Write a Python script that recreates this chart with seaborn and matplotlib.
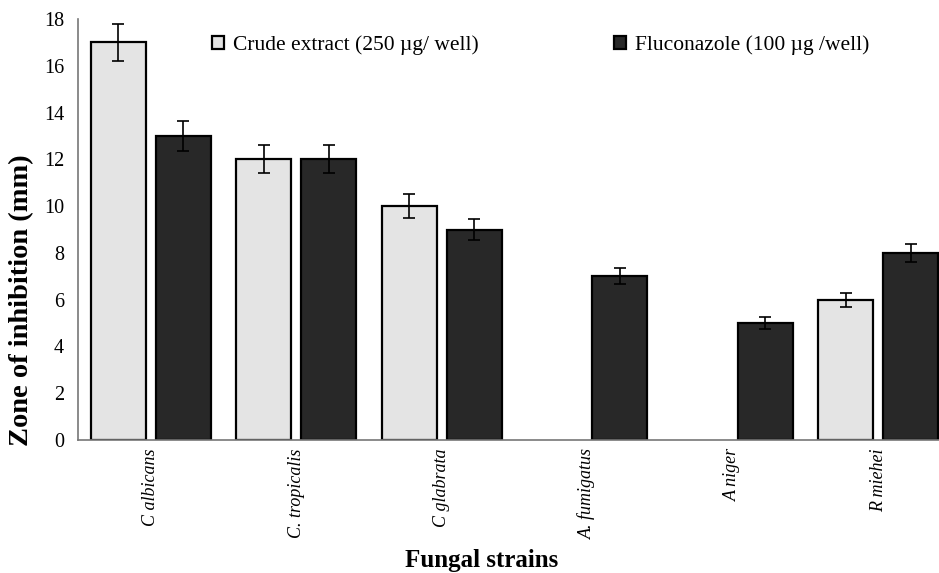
import pandas as pd
import matplotlib.pyplot as plt
import seaborn as sns

strains = ["C albicans", "C. tropicalis", "C glabrata", "A. fumigatus", "A niger", "R miehei"]
crude = [17, 12, 10, 0, 0, 6]
crude_err = [0.8, 0.6, 0.5, 0, 0, 0.3]
flu = [13, 12, 9, 7, 5, 8]
flu_err = [0.65, 0.6, 0.45, 0.35, 0.25, 0.4]
groups = ["Crude extract (250 \u00b5g/ well)", "Fluconazole (100 \u00b5g /well)"]

data = pd.DataFrame({
    "strain": strains * 2,
    "zone": crude + flu,
    "err": crude_err + flu_err,
    "group": [groups[0]] * len(strains) + [groups[1]] * len(strains),
})

sns.set_style("white")
plt.rcParams['font.family'] = ['Liberation Serif', 'DejaVu Serif']
plt.rcParams['text.color'] = 'black'
plt.rcParams['xtick.color'] = 'black'
plt.rcParams['ytick.color'] = 'black'

fig = plt.figure(figsize=(9.39, 5.73), dpi=100)
ax = fig.add_axes([78 / 939, 1 - 440 / 573, 873 / 939, 421 / 573])

sns.barplot(data=data, x="strain", y="zone", hue="group", order=strains,
            hue_order=groups, palette=["#e4e4e4", "#282828"], edgecolor="black",
            linewidth=1.6, width=0.893, gap=0.154, errorbar=None, ax=ax)

# error bars on top of each bar, hide outlines of empty bars
bars = ax.patches[:len(data)]
for bar, (_, row) in zip(bars, data.iterrows()):
    if row["zone"] > 0:
        ax.errorbar(bar.get_x() + bar.get_width() / 2, row["zone"], yerr=row["err"],
                    fmt="none", ecolor="black", elinewidth=1.2, capsize=4.5, capthick=1.2)
    else:
        bar.set_linewidth(0)

ax.set_xlim(-0.5, 5.5)
ax.set_ylim(0, 18)
ax.set_yticks(range(0, 19, 2))
ax.set_xticks(range(len(strains)))
ax.set_xticklabels(strains, rotation=90, style="italic", fontsize=13)
ax.set_xticks([i - 0.5 for i in range(len(strains) + 1)], minor=True)
ax.tick_params(axis="x", which="major", length=0, pad=6)
ax.tick_params(axis="x", which="minor", length=5, color="#777777", width=1)
ax.tick_params(axis="y", length=6, color="#777777", width=1, labelsize=14.5, pad=4)

for side in ["top", "right"]:
    ax.spines[side].set_visible(False)
for side in ["left", "bottom"]:
    ax.spines[side].set_color("#777777")
    ax.spines[side].set_linewidth(1.2)

ax.set_xlabel("")
ax.set_ylabel("")
fig.text(482 / 939, 1 - 561 / 573, "Fungal strains", ha="center", va="center",
         fontsize=18, fontweight="bold")
fig.text(22 / 939, 1 - 300 / 573, "Zone of inhibition (mm)", ha="center", va="center",
         rotation=90, fontsize=20.5, fontweight="bold")

ax.legend(loc="upper left", bbox_to_anchor=(193 / 939, 1 - 16 / 573),
          bbox_transform=fig.transFigure, ncol=2, frameon=False, fontsize=15.5,
          handlelength=0.55, handleheight=0.55, handletextpad=0.4, columnspacing=6.3)

fig.savefig("out.png", dpi=100)
